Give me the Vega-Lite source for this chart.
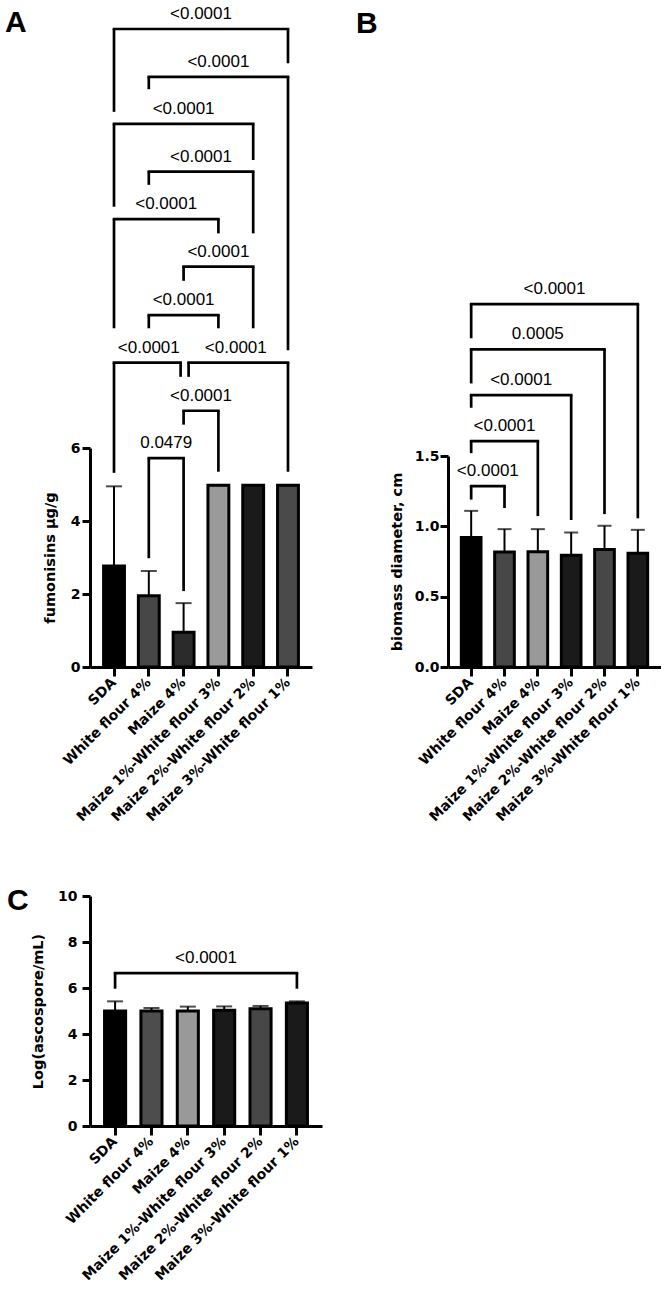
{
  "$schema": "https://vega.github.io/schema/vega-lite/v6.json",
  "padding": {"left": 5, "top": 4, "right": 0, "bottom": 0},
  "background": "white",
  "config": {
    "view": {"stroke": null},
    "font": "Liberation Sans",
    "axis": {
      "domainColor": "black", "domainWidth": 3, "tickColor": "black", "tickWidth": 3,
      "labelFont": "DejaVu Sans", "labelFontWeight": "bold", "labelFontSize": 14, "labelColor": "black",
      "titleFont": "DejaVu Sans", "titleFontWeight": "bold", "titleFontSize": 14.5, "titleColor": "black",
      "grid": false, "labelLimit": 400
    },
    "axisX": {"labelAngle": -45, "labelAlign": "right", "labelBaseline": "middle", "tickSize": 9, "labelPadding": 4},
    "title": {"font": "Liberation Sans", "fontSize": 30, "fontWeight": "bold", "color": "black", "anchor": "start", "frame": "group", "offset": 0, "baseline": "alphabetic"},
    "text": {"font": "Liberation Sans", "fontSize": 17, "color": "black", "baseline": "alphabetic", "dy": -10},
    "rule": {"color": "black"},
    "tick": {"color": "black"}
  },
  "datasets": {
    "barsA": [
      {"group": "SDA", "mean": 2.77, "upper": 4.95},
      {"group": "White flour 4%", "mean": 1.95, "upper": 2.63},
      {"group": "Maize 4%", "mean": 0.95, "upper": 1.75},
      {"group": "Maize 1%-White flour 3%", "mean": 4.98, "upper": 4.98},
      {"group": "Maize 2%-White flour 2%", "mean": 4.98, "upper": 4.98},
      {"group": "Maize 3%-White flour 1%", "mean": 4.98, "upper": 4.98}
    ],
    "bracketsA": [
      {"g1": "SDA", "g2": "Maize 3%-White flour 1%", "level": 17.48, "leg1": 15.21, "leg2": 16.54, "p": "<0.0001", "labelAt": "Maize 1%-White flour 3%", "between": true},
      {"g1": "White flour 4%", "g2": "Maize 3%-White flour 1%", "level": 16.17, "leg1": 15.83, "leg2": 8.68, "p": "<0.0001", "labelAt": "Maize 1%-White flour 3%", "between": false},
      {"g1": "SDA", "g2": "Maize 2%-White flour 2%", "level": 14.88, "leg1": 12.61, "leg2": 13.89, "p": "<0.0001", "labelAt": "Maize 4%", "between": false},
      {"g1": "White flour 4%", "g2": "Maize 2%-White flour 2%", "level": 13.57, "leg1": 13.21, "leg2": 11.88, "p": "<0.0001", "labelAt": "Maize 1%-White flour 3%", "between": true},
      {"g1": "SDA", "g2": "Maize 1%-White flour 3%", "level": 12.27, "leg1": 9.28, "leg2": 11.88, "p": "<0.0001", "labelAt": "Maize 4%", "between": true},
      {"g1": "Maize 4%", "g2": "Maize 2%-White flour 2%", "level": 10.97, "leg1": 10.58, "leg2": 9.28, "p": "<0.0001", "labelAt": "Maize 1%-White flour 3%", "between": false},
      {"g1": "White flour 4%", "g2": "Maize 1%-White flour 3%", "level": 9.64, "leg1": 9.28, "leg2": 9.28, "p": "<0.0001", "labelAt": "Maize 4%", "between": false},
      {"g1": "SDA", "g2": "Maize 4%", "level": 8.34, "leg1": 5.32, "leg2": 7.95, "p": "<0.0001", "labelAt": "White flour 4%", "between": false},
      {"g1": "Maize 4%", "g2": "Maize 3%-White flour 1%", "level": 8.34, "leg1": 7.95, "leg2": 5.35, "p": "<0.0001", "labelAt": "Maize 2%-White flour 2%", "between": true},
      {"g1": "Maize 4%", "g2": "Maize 1%-White flour 3%", "level": 7.02, "leg1": 6.64, "leg2": 5.35, "p": "<0.0001", "labelAt": "Maize 1%-White flour 3%", "between": true},
      {"g1": "White flour 4%", "g2": "Maize 4%", "level": 5.72, "leg1": 2.98, "leg2": 2.08, "p": "0.0479", "labelAt": "Maize 4%", "between": true}
    ],
    "barsB": [
      {"group": "SDA", "mean": 0.92, "upper": 1.11},
      {"group": "White flour 4%", "mean": 0.817, "upper": 0.98},
      {"group": "Maize 4%", "mean": 0.82, "upper": 0.98},
      {"group": "Maize 1%-White flour 3%", "mean": 0.795, "upper": 0.957},
      {"group": "Maize 2%-White flour 2%", "mean": 0.836, "upper": 1.004},
      {"group": "Maize 3%-White flour 1%", "mean": 0.808, "upper": 0.975}
    ],
    "bracketsB": [
      {"g1": "SDA", "g2": "White flour 4%", "level": 1.286, "leg1": 1.19, "leg2": 1.13, "p": "<0.0001", "labelAt": "White flour 4%", "between": true},
      {"g1": "SDA", "g2": "Maize 4%", "level": 1.606, "leg1": 1.52, "leg2": 1.073, "p": "<0.0001", "labelAt": "White flour 4%", "between": false},
      {"g1": "SDA", "g2": "Maize 1%-White flour 3%", "level": 1.933, "leg1": 1.843, "leg2": 1.045, "p": "<0.0001", "labelAt": "Maize 4%", "between": true},
      {"g1": "SDA", "g2": "Maize 2%-White flour 2%", "level": 2.258, "leg1": 2.016, "leg2": 1.087, "p": "0.0005", "labelAt": "Maize 4%", "between": false},
      {"g1": "SDA", "g2": "Maize 3%-White flour 1%", "level": 2.58, "leg1": 2.337, "leg2": 1.057, "p": "<0.0001", "labelAt": "Maize 1%-White flour 3%", "between": true}
    ],
    "barsC": [
      {"group": "SDA", "mean": 5.0, "upper": 5.42},
      {"group": "White flour 4%", "mean": 5.0, "upper": 5.13},
      {"group": "Maize 4%", "mean": 5.0, "upper": 5.19},
      {"group": "Maize 1%-White flour 3%", "mean": 5.03, "upper": 5.2},
      {"group": "Maize 2%-White flour 2%", "mean": 5.1, "upper": 5.22},
      {"group": "Maize 3%-White flour 1%", "mean": 5.35, "upper": 5.42}
    ],
    "bracketsC": [
      {"g1": "SDA", "g2": "Maize 3%-White flour 1%", "level": 6.65, "leg1": 5.97, "leg2": 5.97, "p": "<0.0001", "labelAt": "Maize 1%-White flour 3%", "between": true}
    ]
  },
  "concat": [
    {
      "width": 222, "height": 219,
      "title": {"text": "A", "dx": -85, "dy": 37.5},
      "layer": [
        {
          "data": {"name": "barsA"},
          "mark": {"type": "bar", "stroke": "black", "strokeWidth": 3},
          "encoding": {
            "x": {"field": "group", "type": "nominal", "sort": null, "title": null,
                  "scale": {"domain": ["SDA", "White flour 4%", "Maize 4%", "Maize 1%-White flour 3%", "Maize 2%-White flour 2%", "Maize 3%-White flour 1%"], "paddingInner": 0.4, "paddingOuter": 0.39}},
            "y": {"field": "mean", "type": "quantitative", "title": "fumonisins µg/g",
                  "scale": {"domain": [0, 6], "nice": false, "zero": true},
                  "axis": {"values": [0, 2, 4, 6], "tickSize": 8, "labelPadding": 2, "titlePadding": 13}},
            "fill": {"field": "group", "type": "nominal", "legend": null,
                     "scale": {"domain": ["SDA", "White flour 4%", "Maize 4%", "Maize 1%-White flour 3%", "Maize 2%-White flour 2%", "Maize 3%-White flour 1%"], "range": ["#000000", "#474747", "#2b2b2b", "#9a9a9a", "#1a1a1a", "#4a4a4a"]}}
          }
        },
        {
          "data": {"name": "barsA"},
          "mark": {"type": "rule", "strokeWidth": 2},
          "encoding": {
            "x": {"field": "group", "type": "nominal", "sort": null, "title": null},
            "y": {"field": "mean", "type": "quantitative", "title": "fumonisins µg/g"},
            "y2": {"field": "upper"}
          }
        },
        {
          "data": {"name": "barsA"},
          "mark": {"type": "tick", "size": 16, "thickness": 2},
          "encoding": {
            "x": {"field": "group", "type": "nominal", "sort": null, "title": null},
            "y": {"field": "upper", "type": "quantitative", "title": "fumonisins µg/g"}
          }
        },
        {
          "data": {"name": "bracketsA"},
          "transform": [{"filter": "!((datum.g1 == 'SDA' && datum.g2 == 'Maize 4%') || (datum.g1 == 'Maize 4%' && datum.g2 == 'Maize 3%-White flour 1%'))"}],
          "mark": {"type": "rule", "strokeWidth": 2.7, "strokeCap": "square"},
          "encoding": {
            "x": {"field": "g1", "type": "nominal", "title": null},
            "x2": {"field": "g2"},
            "y": {"field": "level", "type": "quantitative", "title": "fumonisins µg/g"}
          }
        },
        {
          "data": {"name": "bracketsA"},
          "transform": [{"filter": "datum.g1 == 'SDA' && datum.g2 == 'Maize 4%'"}],
          "mark": {"type": "rule", "strokeWidth": 2.7, "strokeCap": "square", "x2Offset": -3},
          "encoding": {
            "x": {"field": "g1", "type": "nominal", "title": null},
            "x2": {"field": "g2"},
            "y": {"field": "level", "type": "quantitative", "title": "fumonisins µg/g"}
          }
        },
        {
          "data": {"name": "bracketsA"},
          "transform": [{"filter": "datum.g1 == 'Maize 4%' && datum.g2 == 'Maize 3%-White flour 1%'"}],
          "mark": {"type": "rule", "strokeWidth": 2.7, "strokeCap": "square", "xOffset": 5},
          "encoding": {
            "x": {"field": "g1", "type": "nominal", "title": null},
            "x2": {"field": "g2"},
            "y": {"field": "level", "type": "quantitative", "title": "fumonisins µg/g"}
          }
        },
        {
          "data": {"name": "bracketsA"},
          "transform": [{"filter": "!(datum.g1 == 'Maize 4%' && datum.g2 == 'Maize 3%-White flour 1%')"}],
          "mark": {"type": "rule", "strokeWidth": 2.7},
          "encoding": {
            "x": {"field": "g1", "type": "nominal", "title": null},
            "y": {"field": "level", "type": "quantitative", "title": "fumonisins µg/g"},
            "y2": {"field": "leg1"}
          }
        },
        {
          "data": {"name": "bracketsA"},
          "transform": [{"filter": "datum.g1 == 'Maize 4%' && datum.g2 == 'Maize 3%-White flour 1%'"}],
          "mark": {"type": "rule", "strokeWidth": 2.7, "xOffset": 5},
          "encoding": {
            "x": {"field": "g1", "type": "nominal", "title": null},
            "y": {"field": "level", "type": "quantitative", "title": "fumonisins µg/g"},
            "y2": {"field": "leg1"}
          }
        },
        {
          "data": {"name": "bracketsA"},
          "transform": [{"filter": "!(datum.g1 == 'SDA' && datum.g2 == 'Maize 4%')"}],
          "mark": {"type": "rule", "strokeWidth": 2.7},
          "encoding": {
            "x": {"field": "g2", "type": "nominal", "title": null},
            "y": {"field": "level", "type": "quantitative", "title": "fumonisins µg/g"},
            "y2": {"field": "leg2"}
          }
        },
        {
          "data": {"name": "bracketsA"},
          "transform": [{"filter": "datum.g1 == 'SDA' && datum.g2 == 'Maize 4%'"}],
          "mark": {"type": "rule", "strokeWidth": 2.7, "xOffset": -3},
          "encoding": {
            "x": {"field": "g2", "type": "nominal", "title": null},
            "y": {"field": "level", "type": "quantitative", "title": "fumonisins µg/g"},
            "y2": {"field": "leg2"}
          }
        },
        {
          "data": {"name": "bracketsA"},
          "transform": [{"filter": "!datum.between"}],
          "mark": {"type": "text"},
          "encoding": {
            "x": {"field": "labelAt", "type": "nominal", "title": null},
            "y": {"field": "level", "type": "quantitative", "title": "fumonisins µg/g"},
            "text": {"field": "p"}
          }
        },
        {
          "data": {"name": "bracketsA"},
          "transform": [{"filter": "datum.between"}],
          "mark": {"type": "text"},
          "encoding": {
            "x": {"field": "labelAt", "type": "nominal", "title": null, "bandPosition": -0.3333},
            "y": {"field": "level", "type": "quantitative", "title": "fumonisins µg/g"},
            "text": {"field": "p"}
          }
        }
      ]
    },
    {
      "width": 213, "height": 219,
      "title": {"text": "B", "dx": -92, "dy": -237},
      "layer": [
        {
          "data": {"name": "barsB"},
          "mark": {"type": "bar", "stroke": "black", "strokeWidth": 3},
          "encoding": {
            "x": {"field": "group", "type": "nominal", "sort": null, "title": null,
                  "scale": {"domain": ["SDA", "White flour 4%", "Maize 4%", "Maize 1%-White flour 3%", "Maize 2%-White flour 2%", "Maize 3%-White flour 1%"], "paddingInner": 0.41, "paddingOuter": 0.4}},
            "y": {"field": "mean", "type": "quantitative", "title": "biomass diameter, cm",
                  "scale": {"domain": [0, 1.5], "nice": false, "zero": true, "range": [219, 8]},
                  "axis": {"values": [0, 0.5, 1, 1.5], "format": ".1f", "tickSize": 8, "labelPadding": 1, "titlePadding": 10}},
            "fill": {"field": "group", "type": "nominal", "legend": null,
                     "scale": {"domain": ["SDA", "White flour 4%", "Maize 4%", "Maize 1%-White flour 3%", "Maize 2%-White flour 2%", "Maize 3%-White flour 1%"], "range": ["#000000", "#474747", "#999999", "#1a1a1a", "#474747", "#1a1a1a"]}}
          }
        },
        {
          "data": {"name": "barsB"},
          "mark": {"type": "rule", "strokeWidth": 2},
          "encoding": {
            "x": {"field": "group", "type": "nominal", "sort": null, "title": null},
            "y": {"field": "mean", "type": "quantitative", "title": "biomass diameter, cm"},
            "y2": {"field": "upper"}
          }
        },
        {
          "data": {"name": "barsB"},
          "mark": {"type": "tick", "size": 14, "thickness": 2},
          "encoding": {
            "x": {"field": "group", "type": "nominal", "sort": null, "title": null},
            "y": {"field": "upper", "type": "quantitative", "title": "biomass diameter, cm"}
          }
        },
        {
          "data": {"name": "bracketsB"},
          "mark": {"type": "rule", "strokeWidth": 2.7, "strokeCap": "square"},
          "encoding": {
            "x": {"field": "g1", "type": "nominal", "title": null},
            "x2": {"field": "g2"},
            "y": {"field": "level", "type": "quantitative", "title": "biomass diameter, cm"}
          }
        },
        {
          "data": {"name": "bracketsB"},
          "mark": {"type": "rule", "strokeWidth": 2.7},
          "encoding": {
            "x": {"field": "g1", "type": "nominal", "title": null},
            "y": {"field": "level", "type": "quantitative", "title": "biomass diameter, cm"},
            "y2": {"field": "leg1"}
          }
        },
        {
          "data": {"name": "bracketsB"},
          "mark": {"type": "rule", "strokeWidth": 2.7},
          "encoding": {
            "x": {"field": "g2", "type": "nominal", "title": null},
            "y": {"field": "level", "type": "quantitative", "title": "biomass diameter, cm"},
            "y2": {"field": "leg2"}
          }
        },
        {
          "data": {"name": "bracketsB"},
          "transform": [{"filter": "!datum.between"}],
          "mark": {"type": "text"},
          "encoding": {
            "x": {"field": "labelAt", "type": "nominal", "title": null},
            "y": {"field": "level", "type": "quantitative", "title": "biomass diameter, cm"},
            "text": {"field": "p"}
          }
        },
        {
          "data": {"name": "bracketsB"},
          "transform": [{"filter": "datum.between"}],
          "mark": {"type": "text"},
          "encoding": {
            "x": {"field": "labelAt", "type": "nominal", "title": null, "bandPosition": -0.3475},
            "y": {"field": "level", "type": "quantitative", "title": "biomass diameter, cm"},
            "text": {"field": "p"}
          }
        }
      ]
    },
    {
      "width": 232, "height": 230,
      "title": {"text": "C", "dx": -83, "dy": 31},
      "layer": [
        {
          "data": {"name": "barsC"},
          "mark": {"type": "bar", "stroke": "black", "strokeWidth": 3},
          "encoding": {
            "x": {"field": "group", "type": "nominal", "sort": null, "title": null,
                  "scale": {"domain": ["SDA", "White flour 4%", "Maize 4%", "Maize 1%-White flour 3%", "Maize 2%-White flour 2%", "Maize 3%-White flour 1%"], "paddingInner": 0.42, "paddingOuter": 0.4}},
            "y": {"field": "mean", "type": "quantitative", "title": "Log(ascospore/mL)",
                  "scale": {"domain": [0, 10], "nice": false, "zero": true},
                  "axis": {"values": [0, 2, 4, 6, 8, 10], "tickSize": 8, "labelPadding": 5, "titlePadding": 12}},
            "fill": {"field": "group", "type": "nominal", "legend": null,
                     "scale": {"domain": ["SDA", "White flour 4%", "Maize 4%", "Maize 1%-White flour 3%", "Maize 2%-White flour 2%", "Maize 3%-White flour 1%"], "range": ["#000000", "#4d4d4d", "#999999", "#1a1a1a", "#474747", "#1a1a1a"]}}
          }
        },
        {
          "data": {"name": "barsC"},
          "mark": {"type": "rule", "strokeWidth": 2},
          "encoding": {
            "x": {"field": "group", "type": "nominal", "sort": null, "title": null},
            "y": {"field": "mean", "type": "quantitative", "title": "Log(ascospore/mL)"},
            "y2": {"field": "upper"}
          }
        },
        {
          "data": {"name": "barsC"},
          "mark": {"type": "tick", "size": 16, "thickness": 2},
          "encoding": {
            "x": {"field": "group", "type": "nominal", "sort": null, "title": null},
            "y": {"field": "upper", "type": "quantitative", "title": "Log(ascospore/mL)"}
          }
        },
        {
          "data": {"name": "bracketsC"},
          "mark": {"type": "rule", "strokeWidth": 2.7, "strokeCap": "square"},
          "encoding": {
            "x": {"field": "g1", "type": "nominal", "title": null},
            "x2": {"field": "g2"},
            "y": {"field": "level", "type": "quantitative", "title": "Log(ascospore/mL)"}
          }
        },
        {
          "data": {"name": "bracketsC"},
          "mark": {"type": "rule", "strokeWidth": 2.7},
          "encoding": {
            "x": {"field": "g1", "type": "nominal", "title": null},
            "y": {"field": "level", "type": "quantitative", "title": "Log(ascospore/mL)"},
            "y2": {"field": "leg1"}
          }
        },
        {
          "data": {"name": "bracketsC"},
          "mark": {"type": "rule", "strokeWidth": 2.7},
          "encoding": {
            "x": {"field": "g2", "type": "nominal", "title": null},
            "y": {"field": "level", "type": "quantitative", "title": "Log(ascospore/mL)"},
            "y2": {"field": "leg2"}
          }
        },
        {
          "data": {"name": "bracketsC"},
          "mark": {"type": "text"},
          "encoding": {
            "x": {"field": "labelAt", "type": "nominal", "title": null, "bandPosition": -0.362},
            "y": {"field": "level", "type": "quantitative", "title": "Log(ascospore/mL)"},
            "text": {"field": "p"}
          }
        }
      ]
    }
  ],
  "columns": 2,
  "bounds": "flush",
  "align": "each",
  "spacing": {"row": 229, "column": 126},
  "resolve": {"scale": {"fill": "independent"}, "legend": {"fill": "independent"}}
}
